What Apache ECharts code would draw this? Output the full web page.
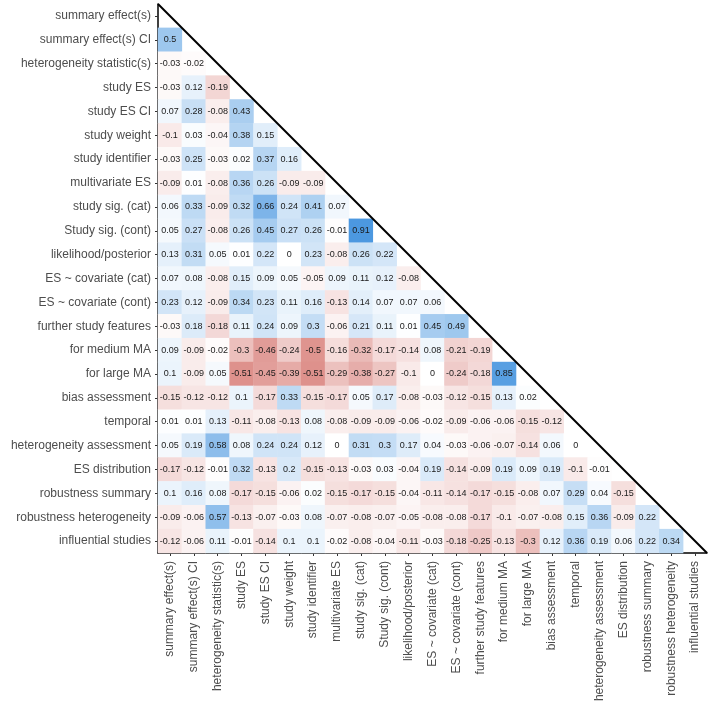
<!DOCTYPE html>
<html>
<head>
<meta charset="utf-8">
<script src="https://cdn.jsdelivr.net/npm/echarts@6/dist/echarts.min.js"></script>
<style>html,body{margin:0;padding:0;background:#fff;}#chart{width:709px;height:709px;}</style>
</head>
<body>
<div id="chart"></div>
<script>
const variables = [
  "summary effect(s)", "summary effect(s) CI", "heterogeneity statistic(s)", "study ES",
  "study ES CI", "study weight", "study identifier", "multivariate ES", "study sig. (cat)",
  "Study sig. (cont)", "likelihood/posterior", "ES ~ covariate (cat)", "ES ~ covariate (cont)",
  "further study features", "for medium MA", "for large MA", "bias assessment", "temporal",
  "heterogeneity assessment", "ES distribution", "robustness summary", "robustness heterogeneity",
  "influential studies"
];

// lower-triangle correlations: rowValues[k] belongs to variables[k+1], columns 0..k
const rowValues = [
  [0.5],
  [-0.03, -0.02],
  [-0.03, 0.12, -0.19],
  [0.07, 0.28, -0.08, 0.43],
  [-0.1, 0.03, -0.04, 0.38, 0.15],
  [-0.03, 0.25, -0.03, 0.02, 0.37, 0.16],
  [-0.09, 0.01, -0.08, 0.36, 0.26, -0.09, -0.09],
  [0.06, 0.33, -0.09, 0.32, 0.66, 0.24, 0.41, 0.07],
  [0.05, 0.27, -0.08, 0.26, 0.45, 0.27, 0.26, -0.01, 0.91],
  [0.13, 0.31, 0.05, 0.01, 0.22, 0, 0.23, -0.08, 0.26, 0.22],
  [0.07, 0.08, -0.08, 0.15, 0.09, 0.05, -0.05, 0.09, 0.11, 0.12, -0.08],
  [0.23, 0.12, -0.09, 0.34, 0.23, 0.11, 0.16, -0.13, 0.14, 0.07, 0.07, 0.06],
  [-0.03, 0.18, -0.18, 0.11, 0.24, 0.09, 0.3, -0.06, 0.21, 0.11, 0.01, 0.45, 0.49],
  [0.09, -0.09, -0.02, -0.3, -0.46, -0.24, -0.5, -0.16, -0.32, -0.17, -0.14, 0.08, -0.21, -0.19],
  [0.1, -0.09, 0.05, -0.51, -0.45, -0.39, -0.51, -0.29, -0.38, -0.27, -0.1, 0, -0.24, -0.18, 0.85],
  [-0.15, -0.12, -0.12, 0.1, -0.17, 0.33, -0.15, -0.17, 0.05, 0.17, -0.08, -0.03, -0.12, -0.15, 0.13, 0.02],
  [0.01, 0.01, 0.13, -0.11, -0.08, -0.13, 0.08, -0.08, -0.09, -0.09, -0.06, -0.02, -0.09, -0.06, -0.06, -0.15, -0.12],
  [0.05, 0.19, 0.58, 0.08, 0.24, 0.24, 0.12, 0, 0.31, 0.3, 0.17, 0.04, -0.03, -0.06, -0.07, -0.14, 0.06, 0],
  [-0.17, -0.12, -0.01, 0.32, -0.13, 0.2, -0.15, -0.13, -0.03, 0.03, -0.04, 0.19, -0.14, -0.09, 0.19, 0.09, 0.19, -0.1, -0.01],
  [0.1, 0.16, 0.08, -0.17, -0.15, -0.06, 0.02, -0.15, -0.17, -0.15, -0.04, -0.11, -0.14, -0.17, -0.15, -0.08, 0.07, 0.29, 0.04, -0.15],
  [-0.09, -0.06, 0.57, -0.13, -0.07, -0.03, 0.08, -0.07, -0.08, -0.07, -0.05, -0.08, -0.08, -0.17, -0.1, -0.07, -0.08, 0.15, 0.36, -0.09, 0.22],
  [-0.12, -0.06, 0.11, -0.01, -0.14, 0.1, 0.1, -0.02, -0.08, -0.04, -0.11, -0.03, -0.18, -0.25, -0.13, -0.3, 0.12, 0.36, 0.19, 0.06, 0.22, 0.34]
];

const scaleColors = ["#BE281E", "#FFFFFF", "#3A8EDD"];

const cells = [];
rowValues.forEach((vals, k) => {
  vals.forEach((v, j) => cells.push([j, k + 1, v]));
});
const n = variables.length;

const chart = echarts.init(document.getElementById('chart'), null, {renderer: 'canvas'});
const labelFont = 'Liberation Sans, Arial, sans-serif';
chart.setOption({
  animation: false,
  backgroundColor: '#ffffff',
  grid: {left: 158, right: 2, top: 4, bottom: 156, containLabel: false},
  xAxis: [{
    type: 'category', data: variables, position: 'bottom',
    axisLine: {show: true, onZero: false, lineStyle: {color: '#000', width: 1.5}},
    axisTick: {show: true, alignWithLabel: true, length: 3, lineStyle: {color: '#333'}},
    axisLabel: {rotate: 90, interval: 0, margin: 8, color: '#4D4D4D', fontSize: 12, fontFamily: labelFont},
    splitLine: {show: false}
  }, {
    type: 'value', min: 0, max: n, show: false
  }],
  yAxis: [{
    type: 'category', data: variables, inverse: true, position: 'left',
    axisLine: {show: true, onZero: false, lineStyle: {color: '#000', width: 1.5}},
    axisTick: {show: true, alignWithLabel: true, length: 3, lineStyle: {color: '#333'}},
    axisLabel: {interval: 0, margin: 7, color: '#4D4D4D', fontSize: 12, fontFamily: labelFont},
    splitLine: {show: false}
  }, {
    type: 'value', min: 0, max: n, inverse: true, show: false
  }],
  visualMap: {
    show: false, type: 'continuous', min: -1, max: 1, seriesIndex: 0, dimension: 2,
    inRange: {color: scaleColors}
  },
  series: [{
    type: 'heatmap',
    xAxisIndex: 0, yAxisIndex: 0,
    data: cells,
    label: {
      show: true, color: '#1A1A1A', fontSize: 9, fontFamily: labelFont,
      formatter: p => String(p.value[2])
    },
    itemStyle: {borderWidth: 0}
  }, {
    type: 'line',
    xAxisIndex: 1, yAxisIndex: 1,
    data: [[0, 0], [n, n]],
    symbol: 'none',
    lineStyle: {color: '#000', width: 2},
    z: 5
  }]
});
</script>
</body>
</html>
